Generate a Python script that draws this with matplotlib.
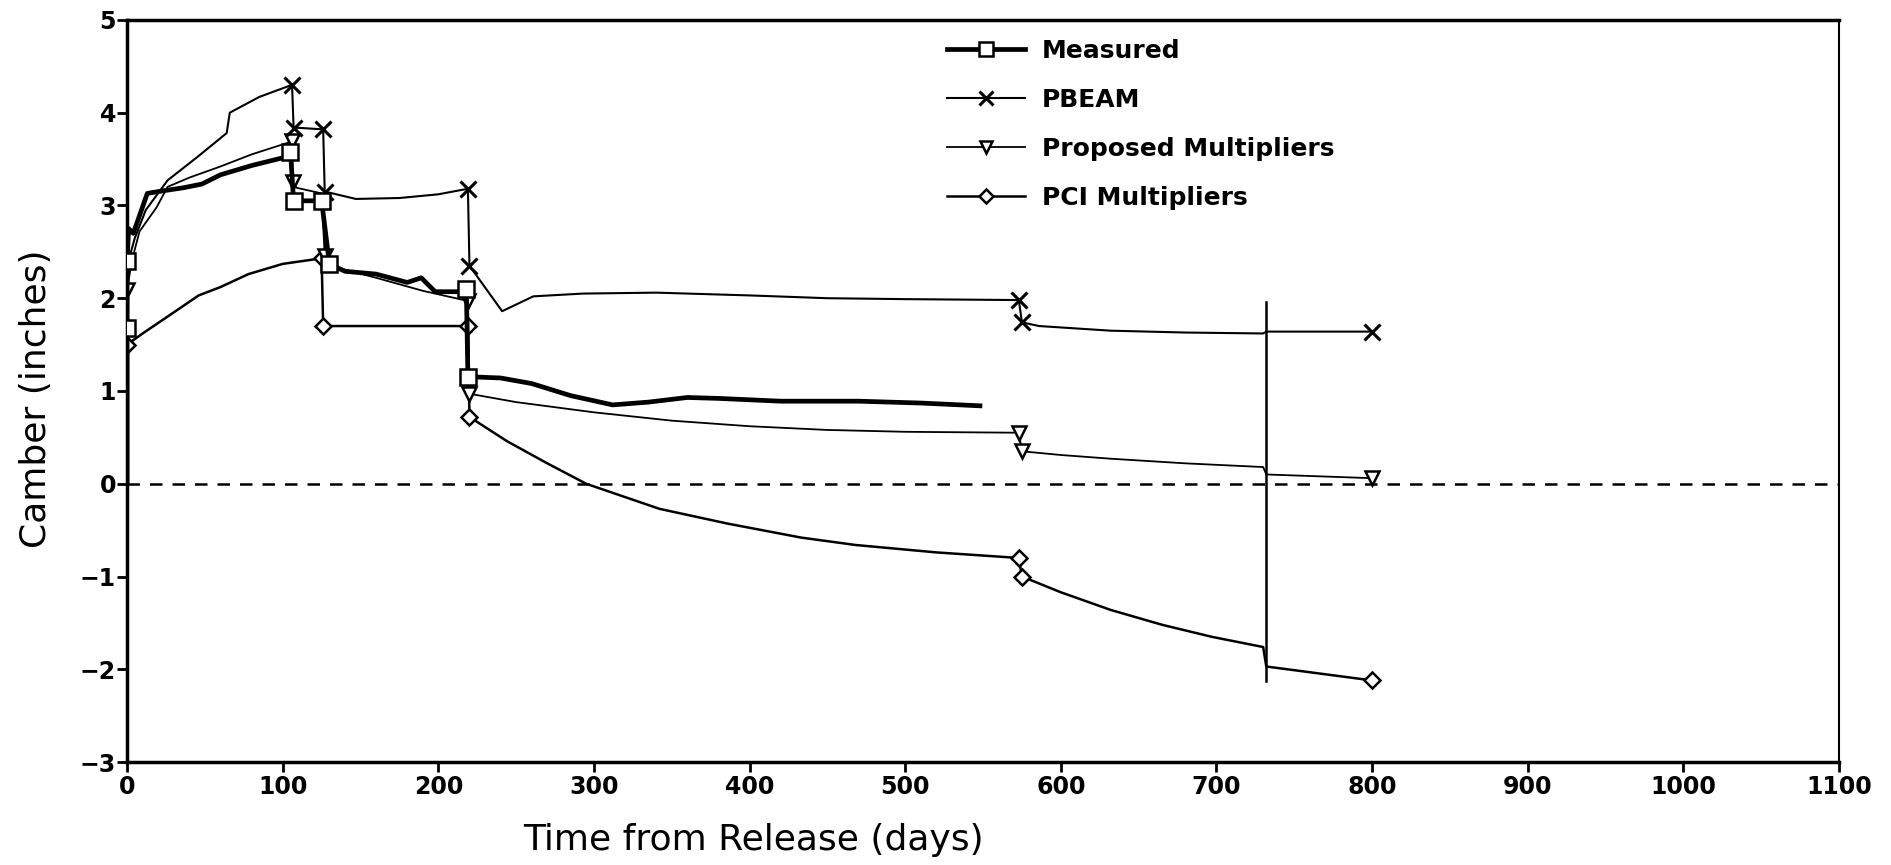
import matplotlib
matplotlib.use('Agg')
import matplotlib.pyplot as plt
from matplotlib.lines import Line2D

# Measured camber
meas_days = [0, 0, 0, 1, 4, 13, 24, 36, 48, 60, 80, 104, 105, 107, 125, 130, 140, 160, 180, 189,
             198, 216, 218, 219, 225, 240, 260, 285, 312, 335, 360, 380, 420, 470, 510, 548]
meas_camber = [0, 1.68, 2.40, 2.75, 2.70, 3.13, 3.16, 3.19, 3.23, 3.33, 3.43, 3.53, 3.58, 3.05, 3.05, 2.37,
               2.29, 2.26, 2.17, 2.22, 2.07, 2.07, 2.10, 1.15, 1.15, 1.14, 1.08, 0.95, 0.85, 0.88, 0.93,
               0.92, 0.89, 0.89, 0.87, 0.84]
meas_marks = [1, 2, 12, 13, 14, 15, 22, 23]

# PBEAM prediction
pb_days = [0, 0, 5, 12, 26, 45, 64, 66, 85, 106, 107, 126, 127, 147, 175, 200, 219, 220, 241, 261,
           293, 340, 400, 450, 500, 573, 575, 586, 632, 680, 730, 732, 800]
pb_camber = [0, 2.35, 2.65, 2.95, 3.27, 3.52, 3.78, 4.00, 4.17, 4.30, 3.84, 3.82, 3.15, 3.07, 3.08, 3.12,
             3.18, 2.35, 1.86, 2.02, 2.05, 2.06, 2.03, 2.00, 1.99, 1.98, 1.74, 1.70, 1.65, 1.63, 1.62,
             1.64, 1.64]
pb_marks = [9, 10, 11, 12, 16, 17, 25, 26, 32]

# Proposed multipliers
pr_days = [0, 0, 3, 8, 19, 26, 40, 60, 80, 106, 106.5, 109, 125, 127, 135, 160, 190, 219, 220, 250,
           300, 350, 400, 450, 500, 573, 575, 600, 632, 680, 730, 732, 800]
pr_camber = [0, 2.09, 2.40, 2.72, 2.98, 3.20, 3.30, 3.42, 3.55, 3.69, 3.25, 3.19, 3.13, 2.45, 2.33, 2.22,
             2.08, 1.97, 0.97, 0.88, 0.77, 0.68, 0.62, 0.58, 0.56, 0.55, 0.35, 0.31, 0.27, 0.22, 0.18,
             0.10, 0.06]
pr_marks = [1, 9, 10, 13, 17, 18, 25, 26, 32]

# PCI multipliers
pci_days = [0, 0, 10, 25, 46, 60, 78, 100, 125, 126, 219, 220, 244, 270, 295, 342, 386, 433, 468,
            520, 573, 575, 600, 632, 665, 697, 730, 732, 800]
pci_camber = [0, 1.50, 1.62, 1.79, 2.03, 2.12, 2.26, 2.37, 2.43, 1.70, 1.70, 0.72, 0.46, 0.22, 0.0,
              -0.27, -0.43, -0.58, -0.66, -0.74, -0.80, -1.00, -1.17, -1.36, -1.52, -1.65, -1.76,
              -1.97, -2.12]
pci_marks = [1, 8, 9, 10, 11, 20, 21, 28]

# vertical line drawn at ~732 days
vline_days = [732, 732]
vline_camber = [1.96, -2.13]

xticks = list(range(0, 1101, 100))
yticks = list(range(-3, 6))

fig = plt.figure(figsize=(18.91, 8.65), dpi=100)
ax = fig.add_axes([0.0672, 0.119, 0.9053, 0.858])

ax.axhline(0, color='black', lw=1.8, ls=(0, (5, 4)), zorder=1)

ax.plot(pci_days, pci_camber, color='black', lw=1.8, marker='D', ms=8, mfc='white', mew=1.8,
        markevery=pci_marks, zorder=3)
ax.plot(pr_days, pr_camber, color='black', lw=1.3, marker='v', ms=10, mfc='white', mew=1.8,
        markevery=pr_marks, zorder=3)
ax.plot(pb_days, pb_camber, color='black', lw=1.5, marker='x', ms=11, mew=2.2,
        markevery=pb_marks, zorder=3)
ax.plot(meas_days, meas_camber, color='black', lw=3.4, marker='s', ms=11, mfc='white', mew=1.8,
        markevery=meas_marks, zorder=4)
ax.plot(vline_days, vline_camber, color='black', lw=1.8, zorder=3)

ax.set_xlim(0, 1100)
ax.set_ylim(-3, 5)
ax.set_xticks(xticks)
ax.set_yticks(yticks)
ax.tick_params(direction='out', length=7, width=2, labelsize=17)
ax.tick_params(axis='x', pad=2)
ax.tick_params(axis='y', pad=1)
for lab in ax.get_xticklabels() + ax.get_yticklabels():
    lab.set_fontweight('bold')
for side in ['left', 'bottom', 'top']:
    ax.spines[side].set_linewidth(2.5)
ax.spines['right'].set_linewidth(1.5)

ax.set_xlabel('Time from Release (days)', fontsize=26)
ax.set_ylabel('Camber (inches)', fontsize=26)
ax.xaxis.set_label_coords(0.366, -0.082)
ax.yaxis.set_label_coords(-0.043, 0.49)

handles = [
    Line2D([], [], color='black', lw=3.4, marker='s', ms=10, mfc='white', mew=1.8),
    Line2D([], [], color='black', lw=1.5, marker='x', ms=10, mew=2.2),
    Line2D([], [], color='black', lw=1.3, marker='v', ms=9, mfc='white', mew=1.8),
    Line2D([], [], color='black', lw=1.8, marker='D', ms=7, mfc='white', mew=1.8),
]
labels = ['Measured', 'PBEAM', 'Proposed Multipliers', 'PCI Multipliers']
leg = fig.legend(handles, labels, loc='upper left', bbox_to_anchor=(0.5008, 0.955), frameon=False,
                 borderpad=0, borderaxespad=0, handlelength=3.1, handletextpad=0.7,
                 labelspacing=1.0, numpoints=1, prop={'size': 18, 'weight': 'bold'})

fig.savefig('out.png', dpi=100)
